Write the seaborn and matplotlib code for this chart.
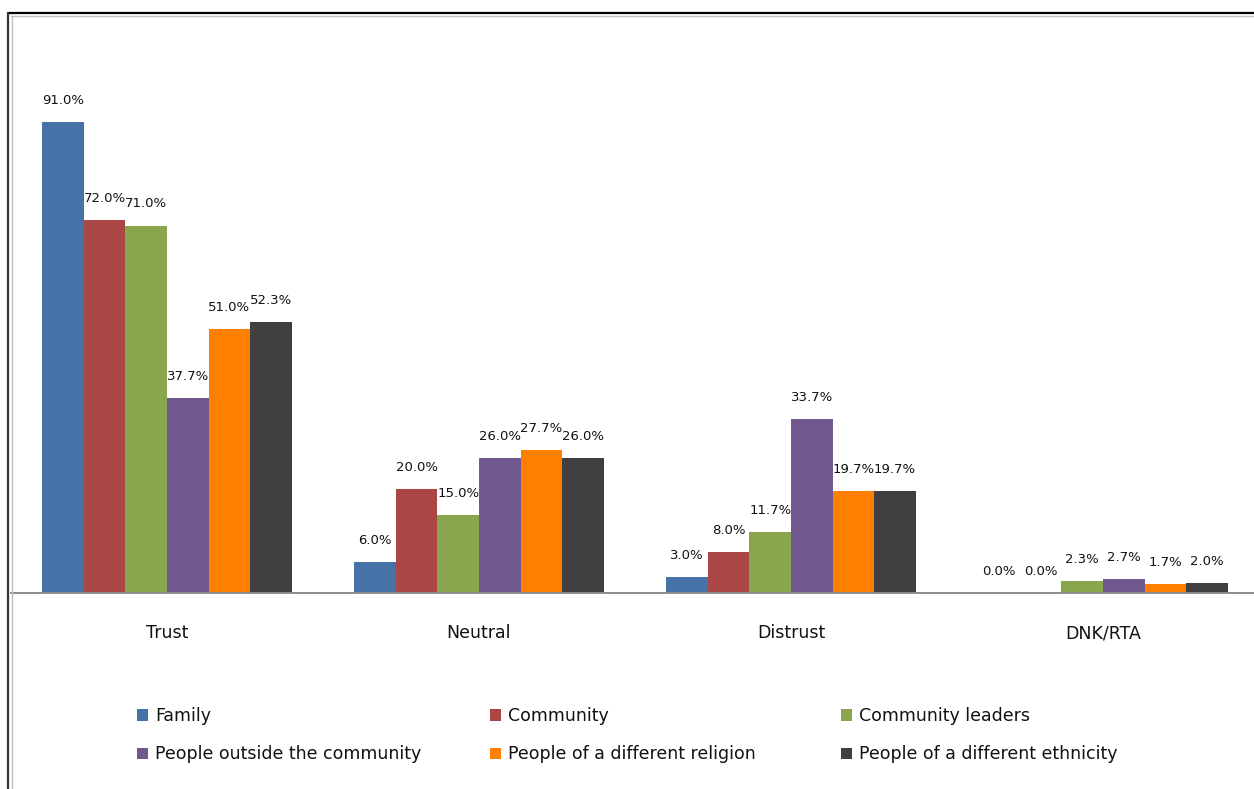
import matplotlib
matplotlib.use("Agg")
import matplotlib.pyplot as plt
from matplotlib.lines import Line2D
from matplotlib.patches import Patch
import seaborn as sns
import pandas as pd

# Survey responses: share of respondents (%) by trust level and target group
categories = ["Trust", "Neutral", "Distrust", "DNK/RTA"]
groups = [
    "Family",
    "Community",
    "Community leaders",
    "People outside the community",
    "People of a different religion",
    "People of a different ethnicity",
]
family = [91.0, 6.0, 3.0, 0.0]
community = [72.0, 20.0, 8.0, 0.0]
community_leaders = [71.0, 15.0, 11.7, 2.3]
outside_community = [37.7, 26.0, 33.7, 2.7]
different_religion = [51.0, 27.7, 19.7, 1.7]
different_ethnicity = [52.3, 26.0, 19.7, 2.0]

series = [family, community, community_leaders, outside_community,
          different_religion, different_ethnicity]
colors = ["#4572A7", "#AA4643", "#89A54E", "#71588F", "#FF8000", "#404040"]

rows = []
for g, vals in zip(groups, series):
    for c, v in zip(categories, vals):
        rows.append({"Response": c, "Group": g, "Percent": v})
df = pd.DataFrame(rows)

sns.set_theme(style="white")
plt.rcParams["font.family"] = ["DejaVu Sans"]

W, H = 1254, 789
fig = plt.figure(figsize=(W / 100, H / 100), dpi=100)
fig.patch.set_facecolor("white")

base_px, top_px = 593, 40
px_per_pct = 471 / 91.0
ax = fig.add_axes([11 / W, (H - base_px) / H, 1248 / W, (base_px - top_px) / H])

sns.barplot(data=df, x="Response", y="Percent", hue="Group",
            order=categories, hue_order=groups, palette=colors,
            width=0.8, saturation=1, linewidth=0, legend=False, ax=ax)

ax.set_ylim(0, (base_px - top_px) / px_per_pct)
ax.set_xlim(-0.5, len(categories) - 0.5)

# value labels above each bar
for cont, vals in zip(ax.containers, series):
    for bar, v in zip(cont, vals):
        ax.annotate(f"{v:.1f}%", (bar.get_x() + bar.get_width() / 2, v),
                    xytext=(0, 15.5), textcoords="offset points",
                    ha="center", va="center", fontsize=9.5, color="#111111")

# axis styling: only the category baseline with boundary ticks
for s in ["left", "right", "top"]:
    ax.spines[s].set_visible(False)
ax.spines["bottom"].set_color("#8c8c8c")
ax.spines["bottom"].set_linewidth(1.4)
ax.set_yticks([])
ax.set_xlabel("")
ax.set_ylabel("")
ax.set_xticks(range(len(categories)))
ax.set_xticklabels(categories, fontsize=12.5, color="#111111")
ax.tick_params(axis="x", which="major", length=0, pad=22.5)
ax.set_xticks([i - 0.5 for i in range(len(categories) + 1)], minor=True)
ax.tick_params(axis="x", which="minor", length=6, width=1.2,
               color="#8c8c8c", direction="out")
ax.grid(False)

# legend laid out in three columns of two entries
order = [[0, 3], [1, 4], [2, 5]]
col_x = [137, 490, 841]
for cols, xpx in zip(order, col_x):
    handles = [Patch(facecolor=colors[i], edgecolor="none") for i in cols]
    labels = [groups[i] for i in cols]
    leg = fig.legend(handles, labels, loc="upper left",
                     bbox_to_anchor=(xpx / W, 1 - 707 / H),
                     frameon=False, fontsize=12.5, handlelength=0.65,
                     handleheight=0.65, handletextpad=0.4, labelspacing=1.18,
                     borderpad=0, borderaxespad=0)
    for t in leg.get_texts():
        t.set_color("#111111")

# chart frame edges along the top and left
fig.add_artist(Line2D([8 / W, 1], [1 - 12.5 / H, 1 - 12.5 / H],
                      color="black", lw=1.6, transform=fig.transFigure))
fig.add_artist(Line2D([8 / W, 8 / W], [0, 1 - 12.5 / H],
                      color="#333333", lw=1.6, transform=fig.transFigure))
fig.add_artist(Line2D([11 / W, 1], [1 - 16 / H, 1 - 16 / H],
                      color="#c0c0c0", lw=1.0, transform=fig.transFigure))
fig.add_artist(Line2D([11.5 / W, 11.5 / W], [0, 1 - 16 / H],
                      color="#c0c0c0", lw=1.0, transform=fig.transFigure))

fig.savefig("out.png", dpi=100)
